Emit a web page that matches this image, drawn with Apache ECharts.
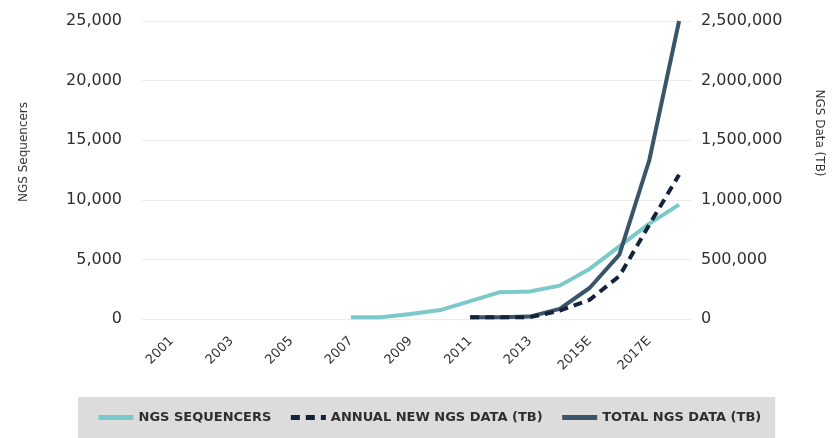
<!DOCTYPE html>
<html>
<head>
<meta charset="utf-8">
<script src="https://cdn.jsdelivr.net/npm/echarts@6/dist/echarts.min.js"></script>
<style>
  html, body { margin: 0; padding: 0; background: #fff; }
  #chart { width: 833px; height: 438px; }
</style>
</head>
<body>
<div id="chart"></div>
<script>
// years on the x axis (one point per year)
var years = [2001, 2002, 2003, 2004, 2005, 2006, 2007, 2008, 2009, 2010, 2011, 2012, 2013, 2014, 2015, 2016, 2017, 2018];
// labels shown under the axis
var yearLabels = { 2001: '2001', 2003: '2003', 2005: '2005', 2007: '2007', 2009: '2009', 2011: '2011', 2013: '2013', 2015: '2015E', 2017: '2017E' };

// NGS sequencers (left axis)
var sequencers = [null, null, null, null, null, null, 150, 150, 420, 750, 1500, 2250, 2300, 2800, 4200, 6100, 8000, 9600];
// annual new NGS data, TB (right axis)
var annualData = [null, null, null, null, null, null, null, null, null, null, 15000, 15000, 15000, 70000, 160000, 360000, 790000, 1210000];
// total NGS data, TB (right axis)
var totalData = [null, null, null, null, null, null, null, null, null, null, 15000, 15000, 20000, 85000, 260000, 540000, 1330000, 2500000];

function pairs(vals) {
    return years.map(function (y, i) { return [y, vals[i]]; });
}

var labelFont = { color: '#2f2f2f', fontSize: 16, fontFamily: 'DejaVu Sans' };

var chart = echarts.init(document.getElementById('chart'));
chart.setOption({
    animation: false,
    grid: { left: 142, right: 138, top: 21, bottom: 119 },
    legend: {
        left: 78,
        top: 397,
        backgroundColor: '#dcdcdc',
        padding: [14, 14, 14, 18],
        itemWidth: 35,
        itemHeight: 10,
        itemGap: 17,
        // only the line in the key, no point marker
        itemStyle: { opacity: 0 },
        lineStyle: { width: 5 },
        textStyle: { color: '#2e2e2e', fontSize: 13, fontWeight: 'bold', fontFamily: 'DejaVu Sans' },
        data: ['NGS SEQUENCERS', 'ANNUAL NEW NGS DATA (TB)', 'TOTAL NGS DATA (TB)']
    },
    xAxis: {
        type: 'value',
        min: 2000,
        max: 2018.4,
        interval: 1,
        axisLine: { show: false },
        axisTick: { show: false },
        splitLine: { show: false },
        axisLabel: {
            rotate: 45,
            margin: 20,
            color: '#2f2f2f',
            fontSize: 13,
            fontFamily: 'DejaVu Sans',
            showMaxLabel: false,
            formatter: function (v) { return yearLabels[v] || ''; }
        }
    },
    yAxis: [
        {
            type: 'value',
            min: 0,
            max: 25000,
            interval: 5000,
            name: 'NGS Sequencers',
            nameLocation: 'middle',
            nameGap: 112,
            nameTextStyle: { color: '#333', fontSize: 12, fontFamily: 'DejaVu Sans', padding: [0, 0, 0, 36] },
            axisLine: { show: false },
            axisTick: { show: false },
            splitLine: { lineStyle: { color: '#ececec', width: 1 } },
            axisLabel: Object.assign({ margin: 20, formatter: function (v) { return v.toLocaleString('en-US'); } }, labelFont)
        },
        {
            type: 'value',
            min: 0,
            max: 2500000,
            interval: 500000,
            name: 'NGS Data (TB)',
            nameLocation: 'middle',
            nameRotate: -90,
            nameGap: 122,
            nameTextStyle: { color: '#333', fontSize: 12, fontFamily: 'DejaVu Sans', padding: [0, 74, 0, 0] },
            axisLine: { show: false },
            axisTick: { show: false },
            splitLine: { show: false },
            axisLabel: Object.assign({ margin: 10, formatter: function (v) { return v.toLocaleString('en-US'); } }, labelFont)
        }
    ],
    series: [
        {
            name: 'NGS SEQUENCERS',
            type: 'line',
            yAxisIndex: 0,
            symbol: 'none',
            z: 2,
            lineStyle: { color: '#7cc9ca', width: 4 },
            itemStyle: { color: '#7cc9ca' },
            data: pairs(sequencers)
        },
        {
            name: 'ANNUAL NEW NGS DATA (TB)',
            type: 'line',
            yAxisIndex: 1,
            symbol: 'none',
            z: 4,
            lineStyle: { color: '#13233a', width: 4, type: [9, 6] },
            itemStyle: { color: '#13233a' },
            data: pairs(annualData)
        },
        {
            name: 'TOTAL NGS DATA (TB)',
            type: 'line',
            yAxisIndex: 1,
            symbol: 'none',
            z: 3,
            lineStyle: { color: '#3a5468', width: 4 },
            itemStyle: { color: '#3a5468' },
            data: pairs(totalData)
        }
    ]
});
</script>
</body>
</html>
